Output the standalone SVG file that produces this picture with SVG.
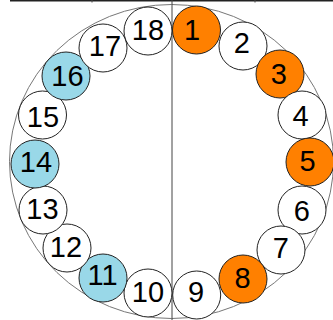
<svg xmlns="http://www.w3.org/2000/svg" width="333" height="320" viewBox="0 0 333 320">
<style>
.n circle{stroke:#222;stroke-width:1}
.w{fill:#fff}
.o{fill:#FF8000}
.b{fill:#99D8E8}
text{font-family:"Liberation Sans",Arial,sans-serif;font-size:29px;fill:#000;text-anchor:middle;dominant-baseline:central}
</style>
<rect width="333" height="320" fill="#fff"/>
<g id="frame">
<line x1="10" y1="0.7" x2="333" y2="0.7" stroke="#222" stroke-width="1.5"/>
<line x1="92" y1="0" x2="92" y2="2.5" stroke="#444" stroke-width="1"/>
<line x1="255" y1="0" x2="255" y2="2.5" stroke="#444" stroke-width="1"/>
<ellipse cx="171.5" cy="161.5" rx="162" ry="157" fill="none" stroke="#777" stroke-width="1"/>
</g>
<g id="connectors">
<line x1="172" y1="0" x2="172" y2="320" stroke="#444" stroke-width="1"/>
</g>
<g id="n1" class="n"><circle class="o" cx="196.5" cy="30" r="24"/><text x="192" y="29.5">1</text></g>
<g id="n2" class="n"><circle class="w" cx="243" cy="46" r="24"/><text x="241.7" y="42.5">2</text></g>
<g id="n3" class="n"><circle class="o" cx="280" cy="74" r="24"/><text x="278.7" y="74">3</text></g>
<g id="n4" class="n"><circle class="w" cx="302" cy="115" r="24"/><text x="300.5" y="115.5">4</text></g>
<g id="n5" class="n"><circle class="o" cx="310" cy="162" r="24"/><text x="307.5" y="160.8">5</text></g>
<g id="n6" class="n"><circle class="w" cx="302" cy="210" r="24"/><text x="301.7" y="211">6</text></g>
<g id="n7" class="n"><circle class="w" cx="281" cy="250" r="24"/><text x="280.8" y="247.8">7</text></g>
<g id="n8" class="n"><circle class="o" cx="243" cy="279" r="24"/><text x="242.5" y="278.3">8</text></g>
<g id="n9" class="n"><circle class="w" cx="196.7" cy="295" r="24"/><text x="196" y="292">9</text></g>
<g id="n10" class="n"><circle class="w" cx="148" cy="293" r="24"/><text x="148" y="292">10</text></g>
<g id="n11" class="n"><circle class="b" cx="103" cy="278" r="24"/><text x="102.5" y="275">11</text></g>
<g id="n12" class="n"><circle class="w" cx="67" cy="248" r="24"/><text x="66" y="246.7">12</text></g>
<g id="n13" class="n"><circle class="w" cx="43" cy="210" r="24"/><text x="42.5" y="209">13</text></g>
<g id="n14" class="n"><circle class="b" cx="35" cy="164" r="24"/><text x="36" y="161.7">14</text></g>
<g id="n15" class="n"><circle class="w" cx="42.5" cy="115" r="24"/><text x="43" y="117">15</text></g>
<g id="n16" class="n"><circle class="b" cx="66" cy="76" r="24"/><text x="67.5" y="75.5">16</text></g>
<g id="n17" class="n"><circle class="w" cx="103" cy="48" r="24"/><text x="105" y="46">17</text></g>
<g id="n18" class="n"><circle class="w" cx="148" cy="31" r="24"/><text x="148" y="29.5">18</text></g>
</svg>
